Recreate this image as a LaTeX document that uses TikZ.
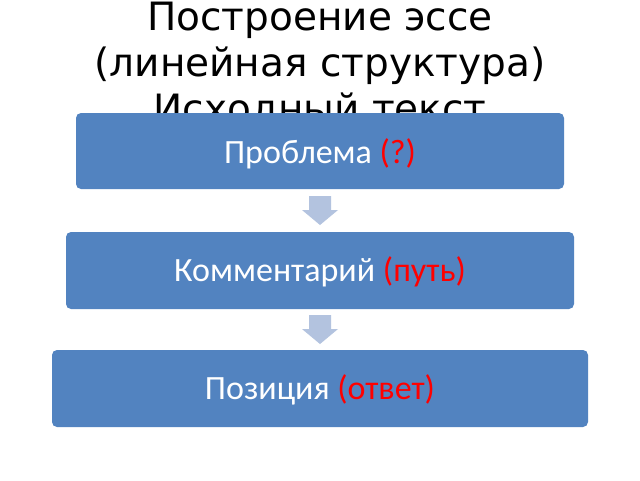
\documentclass[tikz,border=0pt]{standalone}
\usepackage{fontspec}
\setmainfont{Carlito}
\newfontfamily\titlefont{DejaVu Sans}
\definecolor{boxblue}{HTML}{5283C0}
\definecolor{arrowblue}{HTML}{B3C3DF}
\definecolor{hlred}{HTML}{FF0000}
\tikzset{
  titleline/.style={anchor=base, inner sep=0pt, font=\titlefont\fontsize{39}{39}\selectfont, text=black},
  stepbox/.style={draw=none, fill=boxblue, rounded corners=5pt},
  steptext/.style={anchor=base, inner sep=0pt, text=white, font=\fontsize{34}{34}\selectfont},
  downarrow/.style={fill=arrowblue, draw=none}
}
\begin{document}
\begin{tikzpicture}[x=1pt,y=-1pt]
\useasboundingbox (0,0) rectangle (640,480);
\fill[white] (0,0) rectangle (640,480);
% title
\node[titleline] (t1) at (320,30) {Построение эссе};
\node[titleline] (t2) at (320,76) {(линейная структура)};
\node[titleline] (t3) at (320,122) {Исходный текст};
% boxes
\fill[stepbox] (76,113) rectangle (564,189);
\node[steptext] (b1) at (320,163) {Проблема \textcolor{hlred}{(?)}};
\fill[stepbox] (66,232) rectangle (574,309);
\node[steptext] (b2) at (320,281) {Комментарий \textcolor{hlred}{(путь)}};
\fill[stepbox] (52,350) rectangle (588,427);
\node[steptext] (b3) at (320,399) {Позиция \textcolor{hlred}{(ответ)}};
% arrows
\fill[downarrow] (309,196) -- (331,196) -- (331,210) -- (338,210) -- (320,225) -- (302,210) -- (309,210) -- cycle;
\fill[downarrow] (309,315) -- (331,315) -- (331,329) -- (338,329) -- (320,344) -- (302,329) -- (309,329) -- cycle;
\end{tikzpicture}
\end{document}
